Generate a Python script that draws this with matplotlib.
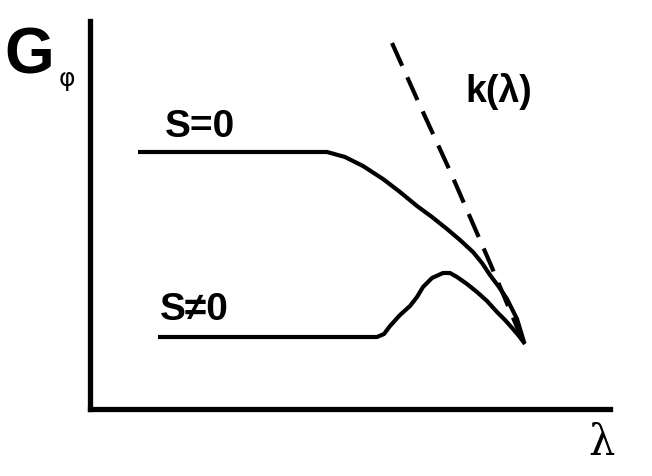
import matplotlib
matplotlib.use("Agg")
import matplotlib.pyplot as plt

# Curve values (x = lambda position, y = G_phi level)
s0_x = [138, 250, 327, 345, 363, 383, 400, 417, 432, 447, 460, 473, 482, 490, 499, 507, 517, 524]
s0_y = [153, 153, 153, 158, 167, 180, 193, 207, 218, 230, 241, 253, 264, 276, 288, 300, 320, 343]

sn_x = [158, 300, 377, 384, 390, 400, 410, 417, 423, 432, 443, 450, 457, 467, 477, 487, 497, 505, 513, 519, 525]
sn_y = [338, 338, 338, 335, 327, 316, 307, 298, 288, 279, 274, 274, 278, 285, 293, 302, 313, 321, 330, 337, 345]

k_x = [392, 417, 450, 490, 522]
k_y = [44, 100, 172, 264, 340]

label_s0 = "S=0"
label_sn = "S≠0"
label_k = "k(λ)"
label_y = "G"
label_y_sub = "φ"
label_x = "λ"

W, H = 652, 477
fig = plt.figure(figsize=(W / 100, H / 100), dpi=100)
left, right, top, bottom = 90, 610, 22, 410
ax = fig.add_axes([left / W, 1 - bottom / H, (right - left) / W, (bottom - top) / H])
ax.set_xlim(left, right)
ax.set_ylim(bottom, top)
for s in ["top", "right"]:
    ax.spines[s].set_visible(False)
for s in ["left", "bottom"]:
    ax.spines[s].set_linewidth(3.8)
    ax.spines[s].set_color("black")
ax.set_xticks([])
ax.set_yticks([])

ax.plot(s0_x, s0_y, color="black", lw=3.0, solid_capstyle="butt")
ax.plot(sn_x, sn_y, color="black", lw=3.0, solid_capstyle="butt")
ax.plot(k_x, k_y, color="black", lw=3.0, linestyle=(0, (6, 3)))

fam = ["Liberation Sans", "DejaVu Sans"]
ax.text(165, 137, label_s0, fontsize=28, fontweight="bold", family=fam, ha="left", va="baseline")
ax.text(160, 320, label_sn, fontsize=28, fontweight="bold", family=fam, ha="left", va="baseline")
ax.text(465, 102, label_k, fontsize=27, fontweight="bold", family=fam, ha="left", va="baseline")
ax.text(4, 74, label_y, fontsize=46, fontweight="bold", family=fam, ha="left", va="baseline",
        clip_on=False)
ax.text(59, 86, label_y_sub, fontsize=18, family=["DejaVu Sans"], ha="left", va="baseline", clip_on=False)
ax.text(588, 455, label_x, fontsize=30, family=["DejaVu Serif"], ha="left", va="baseline", clip_on=False)

fig.savefig("out.png", dpi=100)
